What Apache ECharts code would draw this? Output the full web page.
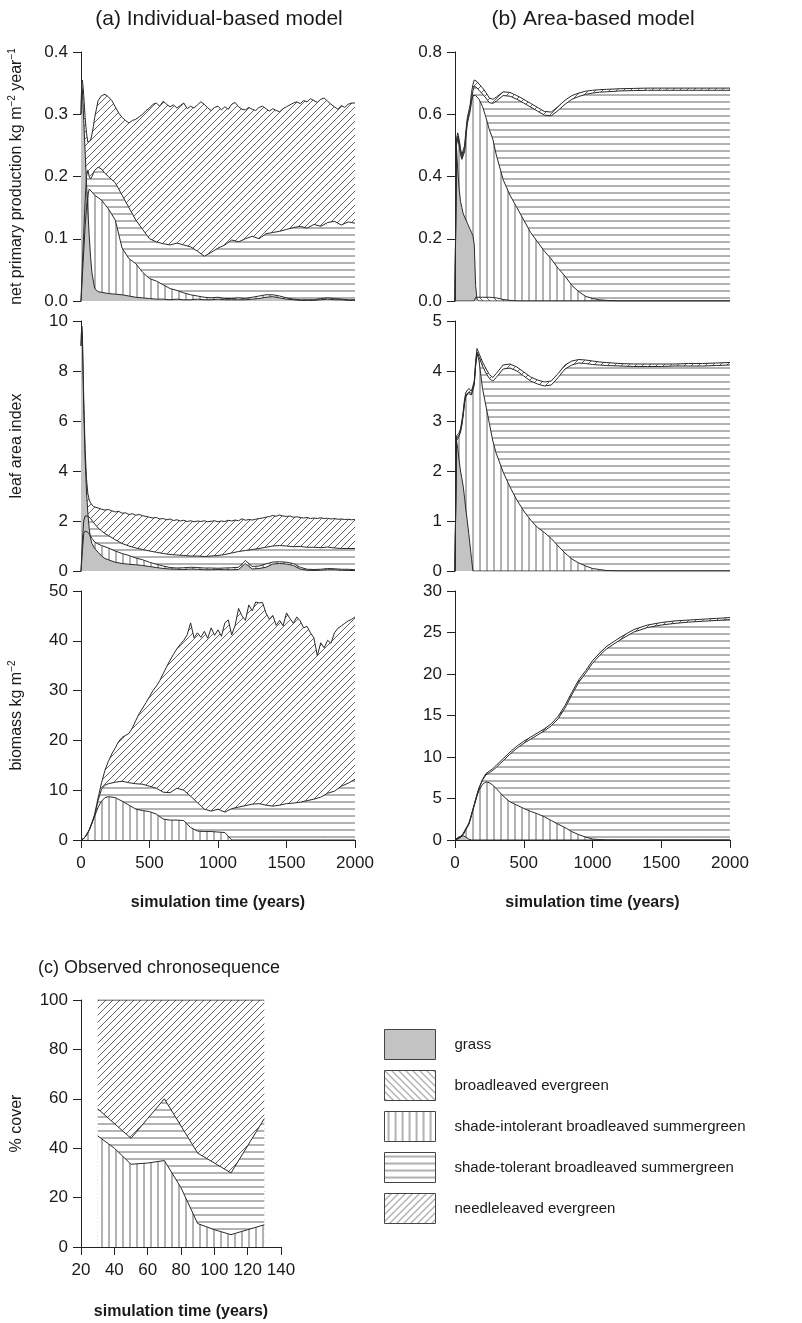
<!DOCTYPE html>
<html><head><meta charset="utf-8">
<script src="https://cdn.jsdelivr.net/npm/echarts@6/dist/echarts.min.js"></script>
<style>html,body{margin:0;padding:0;background:#fff}#chart{width:802px;height:1323px}</style>
</head><body><div id="chart"></div>
<script>
// ---------------- DATA ----------------
// Values are the upper edge of each layer (layers are drawn on top of one another).
const legendNames = ['grass','broadleaved evergreen','shade-intolerant broadleaved summergreen','shade-tolerant broadleaved summergreen','needleleaved evergreen'];

// (a) individual-based model: fine time grid (total lines) and coarse grid (lower layers)
const tFine = [0,5,10,15,20,30,40,50,60,70,80,90,100,
  125,150,175,200, 225,250,275,300, 325,350,375,400, 425,450,475,500,
  525,550,575,600, 625,650,675,700, 725,750,775,800, 825,850,875,900,
  925,950,975,1000, 1025,1050,1075,1100, 1125,1150,1175,1200, 1225,1250,1275,1300,
  1325,1350,1375,1400, 1425,1450,1475,1500, 1525,1550,1575,1600, 1625,1650,1675,1700,
  1725,1750,1775,1800, 1825,1850,1875,1900, 1925,1950,1975,2000];
const tCoarse = [0,5,10,20,30,40,50,60,70,80,100,125,150,175,200,
  250,300,350,400, 450,500,550,600, 650,700,750,800, 850,900,950,1000,
  1050,1100,1150,1200, 1250,1300,1350,1400, 1450,1500,1550,1600, 1650,1700,1750,1800, 1850,1900,1950,2000];

const ibmNppTotal = [0.300,0.350,0.355,0.345,0.330,0.295,0.270,0.255,0.252,0.258,0.268,0.280,0.295,
  0.322,0.330,0.332,0.328, 0.322,0.312,0.302,0.295, 0.290,0.286,0.290,0.292, 0.296,0.300,0.306,0.310,
  0.316,0.318,0.313,0.321, 0.316,0.312,0.315,0.310, 0.314,0.318,0.309,0.313, 0.310,0.315,0.320,0.316,
  0.310,0.306,0.311,0.313, 0.307,0.312,0.308,0.316, 0.319,0.312,0.308,0.307, 0.311,0.308,0.306,0.311,
  0.313,0.309,0.305,0.309, 0.306,0.304,0.309,0.312, 0.315,0.318,0.320,0.317, 0.322,0.320,0.325,0.322,
  0.319,0.324,0.326,0.321, 0.316,0.312,0.308,0.314, 0.311,0.316,0.318,0.318];
const ibmNppST = [0,0.03,0.06,0.11,0.16,0.20,0.21,0.20,0.196,0.20,0.21,0.215,0.212,0.205,0.20,
  0.19,0.17,0.15,0.13, 0.115,0.10,0.095,0.092, 0.090,0.093,0.090,0.087, 0.080,0.072,0.078,0.085,
  0.090,0.098,0.095,0.100, 0.104,0.100,0.108,0.110, 0.112,0.115,0.118,0.120, 0.117,0.123,0.120,0.126, 0.128,0.122,0.127,0.125];
const ibmNppSI = [0,0.02,0.04,0.08,0.12,0.15,0.17,0.18,0.178,0.175,0.17,0.166,0.162,0.155,0.148,
  0.13,0.085,0.068,0.06, 0.046,0.036,0.032,0.026, 0.02,0.017,0.013,0.01, 0.008,0.006,0.005,0.006,
  0.004,0.004,0.005,0.004, 0.006,0.008,0.01,0.01, 0.008,0.005,0.003,0.002, 0.002,0.002,0.004,0.005, 0.004,0.003,0.002,0.002];
const ibmNppGrass = [0.30,0.345,0.34,0.29,0.24,0.19,0.145,0.105,0.07,0.045,0.02,0.015,0.014,0.013,0.012,
  0.011,0.010,0.008,0.006, 0.005,0.004,0.003,0.003, 0.002,0.003,0.002,0.002, 0.003,0.002,0.002,0.003,
  0.002,0.002,0.002,0.002, 0.003,0.004,0.006,0.007, 0.005,0.003,0.002,0.001, 0.001,0.001,0.002,0.003, 0.002,0.002,0.001,0.001];

const ibmLaiTotal = [9.0,9.8,9.5,8.2,6.9,4.9,3.7,3.1,2.85,2.72,2.64,2.58,2.55,
  2.52,2.47,2.44,2.46, 2.41,2.36,2.39,2.31, 2.33,2.26,2.29,2.23, 2.26,2.21,2.18,2.15,
  2.12,2.14,2.08,2.10, 2.05,2.08,2.02,2.05, 2.00,2.03,1.98,2.01, 1.97,2.00,1.98,2.01,
  1.97,1.99,2.01,1.97, 2.00,1.98,2.03,2.00, 2.04,2.01,2.09,2.03, 2.06,2.04,2.07,2.10,
  2.12,2.15,2.18,2.22, 2.19,2.24,2.20,2.18, 2.20,2.15,2.17,2.14, 2.12,2.14,2.10,2.12,
  2.10,2.13,2.10,2.11, 2.08,2.10,2.07,2.08, 2.06,2.07,2.05,2.06];
const ibmLaiST = [0,0.6,1.2,2.0,2.2,2.2,2.2,2.15,2.1,2.02,1.88,1.72,1.6,1.5,1.42,
  1.25,1.1,1.0,0.92, 0.86,0.8,0.75,0.7, 0.66,0.64,0.62,0.6, 0.6,0.58,0.6,0.62,
  0.66,0.72,0.78,0.82, 0.86,0.9,0.95,1.0, 1.02,1.0,0.97,0.98, 0.95,0.95,0.93,0.96, 0.92,0.9,0.9,0.9];
const ibmLaiSI = [0,0.4,0.8,1.5,1.6,1.6,1.55,1.5,1.4,1.3,1.16,1.08,1.02,0.97,0.92,
  0.8,0.7,0.62,0.52, 0.45,0.35,0.27,0.2, 0.14,0.12,0.13,0.15, 0.14,0.12,0.12,0.11,
  0.12,0.13,0.15,0.42, 0.18,0.2,0.28,0.36, 0.37,0.35,0.3,0.15, 0.07,0.06,0.07,0.1, 0.09,0.07,0.07,0.05];
const ibmLaiGrass = [9.0,9.8,9.3,6.5,4.5,3.2,2.3,1.7,1.3,1.1,0.9,0.75,0.6,0.5,0.45,
  0.35,0.3,0.27,0.25, 0.22,0.18,0.14,0.1, 0.08,0.07,0.06,0.08, 0.07,0.05,0.05,0.06,
  0.05,0.05,0.06,0.3, 0.08,0.1,0.15,0.28, 0.3,0.28,0.22,0.08, 0.03,0.02,0.03,0.05, 0.05,0.03,0.02,0.02];

const ibmBioTotal = [0,0.05,0.1,0.2,0.3,0.6,1.0,1.5,2.0,2.7,3.5,4.3,5.2,
  8.5,11.5,14.0,15.8, 17.3,18.5,19.8,20.6, 21.0,21.4,22.5,24.0, 25.4,26.5,27.6,28.8,
  30.0,30.9,32.0,33.4, 34.8,36.1,37.3,38.4, 39.3,40.1,41.2,43.6, 40.6,41.6,40.7,41.9,
  40.5,42.6,41.1,42.2, 40.9,43.6,44.2,41.2, 43.1,46.5,45.0,44.1, 47.2,46.0,47.8,47.6,
  47.7,45.6,44.3,45.1, 43.1,44.1,43.0,45.6, 44.5,43.5,44.8,44.0, 42.6,42.9,41.6,40.6,
  37.0,39.6,38.6,40.1, 39.5,41.6,42.5,43.0, 43.5,44.0,44.3,44.8];
const ibmBioST = [0,0.05,0.1,0.3,0.6,1.0,1.5,2.0,2.7,3.4,5.0,8.0,10.2,11.0,11.3,
  11.6,11.8,11.5,11.3, 11.2,10.8,10.4,9.6, 9.5,10.4,10.0,8.8, 7.5,6.2,5.8,6.2,
  5.6,6.3,6.6,6.9, 7.2,7.3,7.0,6.8, 7.0,7.3,7.4,7.6, 7.9,8.2,8.6,9.4, 9.8,10.8,11.4,12.2];
const ibmBioSI = [0,0.05,0.1,0.3,0.6,1.0,1.5,2.0,2.7,3.4,4.8,6.6,7.8,8.5,8.7,
  8.5,7.8,7.0,6.2, 5.9,5.7,5.2,4.2, 4.0,4.0,3.9,2.5, 1.8,1.7,1.7,1.6,
  1.5,0,0,0, 0,0,0,0, 0,0,0,0, 0,0,0,0, 0,0,0,0];

// (b) area-based model
const tB = [0,10,20,30,40,50,60,70,80,90,100,110,120,130,140,150,160,
  175,200,225,250,275,300,
  350,400,450,500,550,600,650,700,750,800,850,900,950,1000,1050,1100,
  1200,1300,1400,1500,1600,1700,1800,1900,2000];

const abNppTotal = [0,0.52,0.54,0.52,0.49,0.47,0.465,0.50,0.55,0.59,0.61,0.63,0.67,0.695,0.71,0.71,0.705,
  0.697,0.685,0.670,0.652,0.648,0.655,
  0.672,0.670,0.660,0.648,0.635,0.622,0.609,0.607,0.625,0.645,0.660,0.668,0.674,0.677,0.679,0.680,
  0.682,0.683,0.684,0.684,0.684,0.684,0.684,0.684,0.684];
const abNppST = [0,0.51,0.53,0.51,0.48,0.46,0.455,0.49,0.54,0.58,0.60,0.615,0.65,0.675,0.69,0.69,0.685,
  0.677,0.665,0.652,0.637,0.635,0.642,
  0.660,0.658,0.648,0.636,0.623,0.610,0.597,0.595,0.612,0.632,0.648,0.657,0.664,0.668,0.671,0.672,
  0.675,0.676,0.677,0.677,0.677,0.677,0.677,0.677,0.677];
const abNppSI = [0,0.50,0.52,0.50,0.47,0.455,0.45,0.48,0.53,0.57,0.59,0.61,0.64,0.66,0.665,0.66,0.655,
  0.648,0.625,0.59,0.55,0.52,0.47,
  0.39,0.34,0.30,0.26,0.22,0.19,0.16,0.135,0.105,0.08,0.05,0.03,0.015,0.008,0.004,0.002,
  0,0,0,0,0,0,0,0,0];
const abNppBE = [0,0,0,0,0,0,0,0,0,0,0,0,0,0,0,0.012,0.012,
  0.012,0.012,0.012,0.012,0.011,0.010,
  0.005,0.002,0,0,0,0,0,0,0,0,0,0,0,0,0,0,
  0,0,0,0,0,0,0,0,0];
const abNppGrass = [0,0.50,0.42,0.36,0.32,0.30,0.28,0.27,0.26,0.25,0.24,0.23,0.22,0.21,0.18,0.05,0.005,
  0,0,0,0,0,0,
  0,0,0,0,0,0,0,0,0,0,0,0,0,0,0,0,
  0,0,0,0,0,0,0,0,0];

const abLaiTotal = [0,2.70,2.72,2.76,2.85,3.00,3.20,3.45,3.58,3.62,3.65,3.66,3.60,3.58,3.80,4.20,4.45,
  4.35,4.18,4.05,3.93,3.87,3.95,
  4.12,4.14,4.08,3.98,3.88,3.82,3.78,3.80,3.95,4.12,4.20,4.23,4.22,4.20,4.18,4.17,
  4.15,4.14,4.14,4.14,4.14,4.15,4.15,4.16,4.17];
const abLaiST = [0,2.65,2.68,2.72,2.80,2.95,3.15,3.40,3.52,3.55,3.58,3.60,3.55,3.52,3.75,4.12,4.38,
  4.28,4.10,3.96,3.85,3.80,3.87,
  4.04,4.06,4.00,3.90,3.80,3.74,3.70,3.72,3.87,4.04,4.12,4.16,4.15,4.13,4.12,4.11,
  4.10,4.09,4.09,4.09,4.10,4.10,4.10,4.11,4.12];
const abLaiSI = [0,2.60,2.65,2.70,2.78,2.92,3.12,3.37,3.50,3.53,3.55,3.56,3.52,3.50,3.72,4.10,4.35,
  4.20,3.65,3.30,2.95,2.60,2.35,
  1.98,1.68,1.42,1.20,1.02,0.87,0.77,0.65,0.50,0.36,0.24,0.16,0.10,0.05,0.03,0.01,
  0,0,0,0,0,0,0,0,0];
const abLaiGrass = [0,2.62,2.45,2.20,2.00,1.85,1.69,1.45,1.20,0.98,0.75,0.50,0.25,0,0,0,0,
  0,0,0,0,0,0,
  0,0,0,0,0,0,0,0,0,0,0,0,0,0,0,0,
  0,0,0,0,0,0,0,0,0];

const abBioTotal = [0,0.1,0.2,0.3,0.4,0.6,0.8,1.1,1.4,1.7,2.0,2.5,3.1,3.7,4.3,4.9,5.5,
  6.3,7.3,8.0,8.3,8.6,9.0,
  9.8,10.6,11.3,11.9,12.4,12.9,13.4,14.0,14.9,16.2,17.8,19.3,20.4,21.6,22.5,23.3,
  24.4,25.35,25.9,26.2,26.4,26.5,26.6,26.7,26.8];
const abBioST = [0,0.1,0.2,0.3,0.4,0.55,0.75,1.05,1.35,1.65,1.95,2.45,3.05,3.65,4.25,4.85,5.45,
  6.25,7.2,7.85,8.1,8.4,8.75,
  9.55,10.35,11.05,11.65,12.15,12.65,13.15,13.75,14.6,15.9,17.5,19.0,20.1,21.3,22.2,23.0,
  24.1,25.05,25.6,25.9,26.1,26.25,26.35,26.45,26.55];
const abBioSI = [0,0.05,0.1,0.2,0.3,0.45,0.65,0.95,1.25,1.55,1.85,2.35,2.95,3.55,4.15,4.7,5.3,
  6.0,6.7,7.0,6.9,6.6,6.2,
  5.3,4.6,4.2,3.8,3.45,3.15,2.8,2.35,1.9,1.5,1.0,0.65,0.35,0.12,0.05,0.01,
  0,0,0,0,0,0,0,0,0];
const abBioGrass = [0,0.15,0.3,0.4,0.45,0.5,0.5,0.45,0.35,0.2,0.1,0.03,0,0,0,0,0,
  0,0,0,0,0,0,
  0,0,0,0,0,0,0,0,0,0,0,0,0,0,0,0,
  0,0,0,0,0,0,0,0,0];

// (c) observed chronosequence, % cover (upper edge of each layer)
const cTimeSI = [30,40,50,60,70,80,90,100,110,120,130];
const cSI = [45,40,33.5,34,35,24,9.5,7,5,7,9];
const cTimeST = [30,50,70,90,110,130];
const cST = [56,44,60,38,30,52];
const cTimeNE = [30,130];
const cNE = [100,100];

// ---------------- STYLE ----------------
const FONT = '"Liberation Sans", Arial, Helvetica, sans-serif';
const INK = '#1a1a1a';
function hatch(kind, s) {
  const c = document.createElement('canvas');
  c.width = s; c.height = s;
  const g = c.getContext('2d');
  g.fillStyle = '#fff'; g.fillRect(0, 0, s, s);
  g.strokeStyle = '#666'; g.lineWidth = 1; g.beginPath();
  if (kind === 'v') { g.moveTo(s / 2 + 0.5, 0); g.lineTo(s / 2 + 0.5, s); }
  if (kind === 'h') { g.moveTo(0, s / 2 + 0.5); g.lineTo(s, s / 2 + 0.5); }
  if (kind === 'f') { g.moveTo(0, s); g.lineTo(s, 0); g.moveTo(-1, 1); g.lineTo(1, -1); g.moveTo(s - 1, s + 1); g.lineTo(s + 1, s - 1); }
  if (kind === 'b') { g.moveTo(0, 0); g.lineTo(s, s); g.moveTo(-1, s - 1); g.lineTo(1, s + 1); g.moveTo(s - 1, -1); g.lineTo(s + 1, 1); }
  g.stroke();
  return { image: c, repeat: 'repeat' };
}
const FILL = {
  'grass': '#c3c3c3',
  'broadleaved evergreen': hatch('b', 7),
  'shade-intolerant broadleaved summergreen': hatch('v', 7),
  'shade-tolerant broadleaved summergreen': hatch('h', 7),
  'needleleaved evergreen': hatch('f', 7)
};
const [GR, BE, SI, ST, NE] = legendNames;

function layer(name, gi, t, v) {
  return {
    type: 'line', name, xAxisIndex: gi, yAxisIndex: gi,
    data: t.map((x, i) => [x, v[i]]),
    symbol: 'none', showSymbol: false, silent: true, animation: false,
    lineStyle: { color: '#2a2a2a', width: 1 },
    itemStyle: { color: '#2a2a2a' },
    areaStyle: { color: FILL[name], opacity: 1 }
  };
}

const grids = [
  { left: 81, top: 52, width: 274, height: 249 },
  { left: 81, top: 321, width: 274, height: 250 },
  { left: 81, top: 591, width: 274, height: 249 },
  { left: 455, top: 52, width: 275, height: 249 },
  { left: 455, top: 321, width: 275, height: 250 },
  { left: 455, top: 591, width: 275, height: 249 },
  { left: 81, top: 1000, width: 200, height: 247 }
];

const lineAx = { show: true, lineStyle: { color: '#222', width: 1 } };
const tickAx = { show: true, length: 8, lineStyle: { color: '#222', width: 1 } };
const labAx = { fontSize: 17, color: INK, fontFamily: FONT };
const xNameStyle = { fontSize: 16, fontWeight: 'bold', color: INK, fontFamily: FONT };
const yNameStyle = {
  fontSize: 16, color: INK, fontFamily: FONT,
  rich: {
    t: { fontSize: 16, color: INK, fontFamily: FONT, lineHeight: 20 },
    s: { fontSize: 10, color: INK, fontFamily: FONT, verticalAlign: 'top' }
  }
};

function xAx(gi, shown, min, max, interval) {
  const a = { type: 'value', gridIndex: gi, min, max, interval, splitLine: { show: false } };
  if (!shown) { a.show = false; return a; }
  return Object.assign(a, {
    axisLine: lineAx, axisTick: tickAx,
    axisLabel: Object.assign({ margin: 15, formatter: v => String(v) }, labAx),
    name: 'simulation time (years)', nameLocation: 'middle', nameGap: gi === 6 ? 57 : 55,
    nameTextStyle: xNameStyle
  });
}
function yAx(gi, max, interval, dec, name) {
  const a = {
    type: 'value', gridIndex: gi, min: 0, max, interval,
    axisLine: lineAx, axisTick: tickAx, splitLine: { show: false },
    axisLabel: Object.assign({ margin: 13, formatter: v => v.toFixed(dec) }, labAx)
  };
  if (name) Object.assign(a, { name, nameLocation: 'middle', nameGap: 54, nameTextStyle: yNameStyle });
  return a;
}

const series = [
  // (a) NPP
  layer(NE, 0, tFine, ibmNppTotal), layer(ST, 0, tCoarse, ibmNppST), layer(SI, 0, tCoarse, ibmNppSI), layer(GR, 0, tCoarse, ibmNppGrass),
  // (a) LAI
  layer(NE, 1, tFine, ibmLaiTotal), layer(ST, 1, tCoarse, ibmLaiST), layer(SI, 1, tCoarse, ibmLaiSI), layer(GR, 1, tCoarse, ibmLaiGrass),
  // (a) biomass
  layer(NE, 2, tFine, ibmBioTotal), layer(ST, 2, tCoarse, ibmBioST), layer(SI, 2, tCoarse, ibmBioSI),
  // (b) NPP
  layer(NE, 3, tB, abNppTotal), layer(ST, 3, tB, abNppST), layer(SI, 3, tB, abNppSI), layer(BE, 3, tB, abNppBE), layer(GR, 3, tB, abNppGrass),
  // (b) LAI
  layer(NE, 4, tB, abLaiTotal), layer(ST, 4, tB, abLaiST), layer(SI, 4, tB, abLaiSI), layer(GR, 4, tB, abLaiGrass),
  // (b) biomass
  layer(NE, 5, tB, abBioTotal), layer(ST, 5, tB, abBioST), layer(SI, 5, tB, abBioSI), layer(GR, 5, tB, abBioGrass),
  // (c)
  layer(NE, 6, cTimeNE, cNE), layer(ST, 6, cTimeST, cST), layer(SI, 6, cTimeSI, cSI)
];

function title(text, x, y, size, align) {
  return { type: 'text', x, y, silent: true,
    style: { text, font: size + 'px ' + FONT, fill: INK, align, verticalAlign: 'middle', textAlign: align, textVerticalAlign: 'middle' } };
}

const option = {
  animation: false,
  backgroundColor: '#fff',
  grid: grids,
  xAxis: [xAx(0, false, 0, 2000, 500), xAx(1, false, 0, 2000, 500), xAx(2, true, 0, 2000, 500),
          xAx(3, false, 0, 2000, 500), xAx(4, false, 0, 2000, 500), xAx(5, true, 0, 2000, 500),
          xAx(6, true, 20, 140, 20)],
  yAxis: [
    yAx(0, 0.4, 0.1, 1, '{t|net primary production kg m}{s|−2}{t| year}{s|−1}'),
    yAx(1, 10, 2, 0, '{t|leaf area index}'),
    yAx(2, 50, 10, 0, '{t|biomass kg m}{s|−2}'),
    yAx(3, 0.8, 0.2, 1),
    yAx(4, 5, 1, 0),
    yAx(5, 30, 5, 0),
    yAx(6, 100, 20, 0, '{t|% cover}')
  ],
  legend: {
    orient: 'vertical', left: 379, top: 1024, itemWidth: 51, itemHeight: 30, itemGap: 10,
    icon: 'rect', selectedMode: false,
    textStyle: { fontSize: 15, color: INK, fontFamily: FONT, padding: [0, 0, 0, 14] },
    data: legendNames.map(n => ({ name: n, icon: 'rect', itemStyle: { color: FILL[n], borderColor: '#444', borderWidth: 1, opacity: 1 } }))
  },
  graphic: [
    title('(a) Individual-based model', 219, 19, 21, 'center'),
    title('(b) Area-based model', 593, 19, 21, 'center'),
    title('(c) Observed chronosequence', 38, 968, 18, 'left')
  ],
  series
};

const chart = echarts.init(document.getElementById('chart'), null, { renderer: 'canvas' });
chart.setOption(option);
</script></body></html>
